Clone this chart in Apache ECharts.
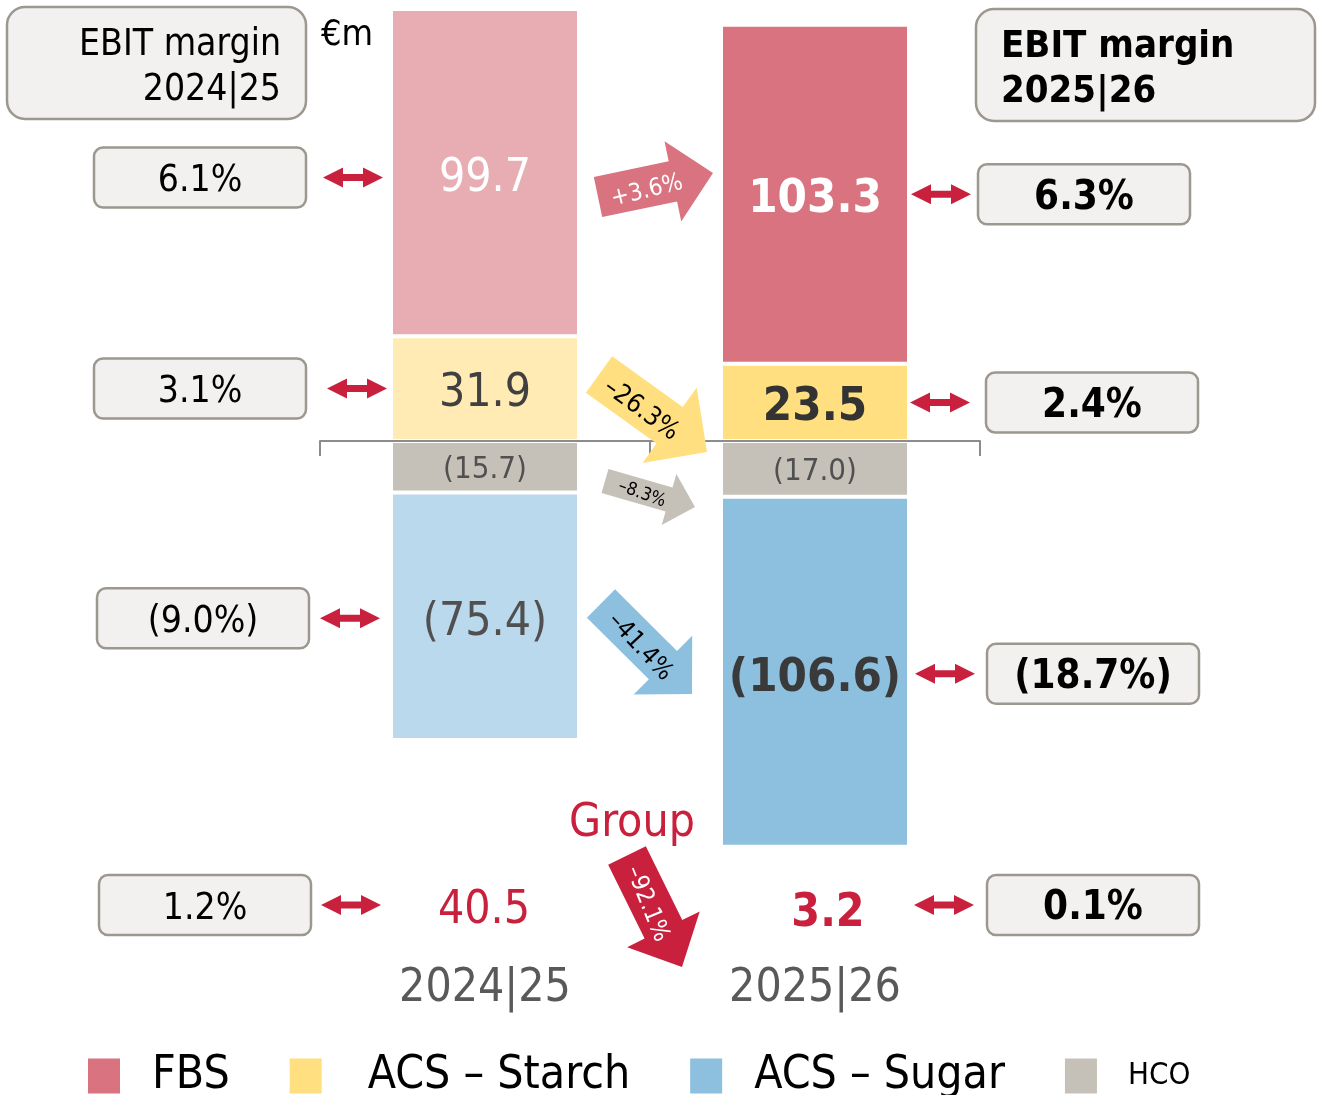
<!DOCTYPE html>
<html>
<head>
<meta charset="utf-8">
<title>EBIT by segment</title>
<script src="https://cdn.jsdelivr.net/npm/echarts@6.0.0/dist/echarts.min.js"></script>
<style>
  html, body { margin: 0; padding: 0; background: #fff; }
  #chart { width: 1319px; height: 1095px; }
</style>
</head>
<body>
<div id="chart"></div>
<script>
  // values in €m
  var categories = ['2024|25', '2025|26']
  var fbs = [99.7, 103.3]
  var starch = [31.9, 23.5]
  var hco = [-15.7, -17.0]
  var sugar = [-75.4, -106.6]
  var groupEbit = [40.5, 3.2]

  // EBIT margins (left = 2024|25, right = 2025|26)
  var marginFbs = ['6.1%', '6.3%']
  var marginStarch = ['3.1%', '2.4%']
  var marginSugar = ['(9.0%)', '(18.7%)']
  var marginGroup = ['1.2%', '0.1%']

  // year-on-year change: FBS, Starch, HCO, Sugar, Group
  var changes = ['+3.6%', '–26.3%', '–8.3%', '–41.4%', '–92.1%']

  var FONT = '"DejaVu Sans Condensed", "DejaVu Sans", sans-serif'
  var RED = '#C8203D'
  var colFbs = ['#E8ADB3', '#D9737F']
  var colStarch = ['#FFEBB3', '#FFDF80']
  var colHco = ['#C5C1B9', '#C5C1B9']
  var colSugar = ['#BBD9EC', '#8DBFDF']

  function fmt(v) {
    return v < 0 ? '(' + (-v).toFixed(1) + ')' : v.toFixed(1)
  }

  function barSeries(name, values, colors, rich, dy) {
    return {
      name: name,
      type: 'bar',
      stack: 'ebit',
      barWidth: 188,
      xAxisIndex: 0,
      data: values.map(function (v, i) {
        return { value: v, itemStyle: { color: colors[i] } }
      }),
      itemStyle: { color: colors[1], borderColor: '#fff', borderWidth: 2 },
      label: {
        show: true,
        position: 'inside',
        offset: [0, dy],
        formatter: function (p) {
          return (p.dataIndex === 0 ? '{a|' : '{b|') + fmt(p.value) + '}'
        },
        rich: rich
      },
      emphasis: { disabled: true }
    }
  }

  var chart = echarts.init(document.getElementById('chart'))
  chart.setOption({
    animation: false,
    textStyle: { fontFamily: FONT },
    grid: { left: 320, right: 339, top: 7.6, bottom: 161.6 },
    xAxis: [{
      type: 'category',
      data: categories,
      z: 10,
      axisLine: { onZero: true, lineStyle: { color: '#8C8C8C', width: 2 } },
      axisTick: { show: true, length: 15, lineStyle: { color: '#8C8C8C', width: 2 } },
      axisLabel: { show: false }
    }, {
      type: 'category',
      data: categories,
      position: 'bottom',
      axisLine: { show: false, onZero: false },
      axisTick: { show: false },
      axisLabel: { margin: 33, fontSize: 46, color: '#595959', fontFamily: FONT }
    }],
    yAxis: {
      type: 'value',
      min: -150,
      max: 132,
      show: false,
      splitLine: { show: false }
    },
    legend: {
      top: 1048,
      left: 83,
      icon: 'rect',
      itemWidth: 32,
      itemHeight: 35,
      itemGap: 60,
      selectedMode: false,
      itemStyle: { borderWidth: 0 },
      data: ['FBS', 'ACS – Starch', 'ACS – Sugar', 'HCO'],
      formatter: function (name) {
        if (name === 'HCO') return '{s|' + name + '}'
        if (name === 'ACS – Starch') return '{w|' + name + '}'
        return '{n|' + name + '}'
      },
      textStyle: {
        rich: {
          n: { fontSize: 46, fontFamily: FONT, color: '#000', padding: [0, 0, 0, 27] },
          w: { fontSize: 46, fontFamily: FONT, color: '#000', padding: [0, 0, 0, 41] },
          s: { fontSize: 31, fontFamily: FONT, color: '#000', padding: [0, 0, 0, 26] }
        }
      }
    },
    series: [
      barSeries('ACS – Starch', starch, colStarch, {
        a: { fontSize: 46, color: '#404040', fontFamily: FONT },
        b: { fontSize: 47, color: '#333', fontWeight: 'bold', fontFamily: FONT }
      }, 5),
      barSeries('FBS', fbs, colFbs, {
        a: { fontSize: 46, color: '#fff', fontFamily: FONT },
        b: { fontSize: 47, color: '#fff', fontWeight: 'bold', fontFamily: FONT }
      }, 6),
      barSeries('HCO', hco, colHco, {
        a: { fontSize: 31, color: '#505050', fontFamily: FONT },
        b: { fontSize: 31, color: '#505050', fontFamily: FONT }
      }, 3),
      barSeries('ACS – Sugar', sugar, colSugar, {
        a: { fontSize: 46, color: '#505050', fontFamily: FONT },
        b: { fontSize: 47, color: '#3a3a3a', fontWeight: 'bold', fontFamily: FONT }
      }, 7)
    ]
  })

  // ---- annotations (margin boxes, arrows, group totals) ----
  function py(ci, v) {
    return chart.convertToPixel({ seriesIndex: 0 }, [ci, v])[1]
  }

  function text(str, x, y, size, o) {
    o = o || {}
    var align = o.align || 'center'
    var dy = o.dy === undefined ? 4 : o.dy
    return {
      type: 'text',
      x: x,
      y: y + dy,
      rotation: o.rot ? -o.rot * Math.PI / 180 : 0,
      z: 20,
      style: {
        text: str,
        fill: o.color || '#000',
        font: (o.bold ? 'bold ' : '') + size + 'px ' + FONT,
        textAlign: align,
        align: align,
        textVerticalAlign: 'middle',
        verticalAlign: 'middle'
      }
    }
  }

  function box(x, y, w, h, r) {
    return {
      type: 'rect',
      z: 15,
      shape: { x: x, y: y, width: w, height: h, r: r },
      style: { fill: '#F2F1EF', stroke: '#9C978F', lineWidth: 2.5 }
    }
  }

  function doubleArrow(cx, cy) {
    return {
      type: 'polygon',
      z: 15,
      shape: {
        points: [
          [cx - 30, cy], [cx - 10, cy - 10], [cx - 10, cy - 3.5], [cx + 10, cy - 3.5],
          [cx + 10, cy - 10], [cx + 30, cy], [cx + 10, cy + 10], [cx + 10, cy + 3.5],
          [cx - 10, cy + 3.5], [cx - 10, cy + 10]
        ]
      },
      style: { fill: RED }
    }
  }

  function blockArrow(a) {
    var dx = a.tip[0] - a.tail[0]
    var dy = a.tip[1] - a.tail[1]
    var len = Math.sqrt(dx * dx + dy * dy)
    var ux = dx / len, uy = dy / len
    var nx = -uy, ny = ux
    var bx = a.tip[0] - ux * a.hl, by = a.tip[1] - uy * a.hl
    var b = a.bw / 2, h = a.hw / 2
    return {
      type: 'polygon',
      z: 12,
      shape: {
        points: [
          [a.tail[0] + nx * b, a.tail[1] + ny * b],
          [bx + nx * b, by + ny * b],
          [bx + nx * h, by + ny * h],
          a.tip,
          [bx - nx * h, by - ny * h],
          [bx - nx * b, by - ny * b],
          [a.tail[0] - nx * b, a.tail[1] - ny * b]
        ]
      },
      style: { fill: a.color }
    }
  }

  var rows = [
    { l: marginFbs[0], r: marginFbs[1], y: [py(0, starch[0] + fbs[0] / 2) + 5, py(1, starch[1] + fbs[1] / 2)], lx: 94, rx: 978, la: 353, ra: 941 },
    { l: marginStarch[0], r: marginStarch[1], y: [py(0, starch[0] / 2), py(1, starch[1] / 2)], lx: 94, rx: 986, la: 357, ra: 940 },
    { l: marginSugar[0], r: marginSugar[1], y: [py(0, hco[0] + sugar[0] / 2) + 2, py(1, hco[1] + sugar[1] / 2) + 2], lx: 97, rx: 987, la: 350, ra: 945 },
    { l: marginGroup[0], r: marginGroup[1], y: [905, 905], lx: 99, rx: 987, la: 351, ra: 944 }
  ]

  var elements = []

  // header boxes
  elements.push(box(7, 7, 299, 112, 18))
  elements.push(text('EBIT margin', 281, 42, 37, { align: 'right', dy: 3 }))
  elements.push(text('2024|25', 281, 87, 37, { align: 'right', dy: 3 }))
  elements.push(text('€m', 321, 33, 36, { align: 'left', dy: 3 }))
  elements.push(box(976, 9, 339, 112, 18))
  elements.push(text('EBIT margin', 1001, 44, 38, { align: 'left', bold: true, dy: 3 }))
  elements.push(text('2025|26', 1001, 89, 38, { align: 'left', bold: true, dy: 3 }))

  rows.forEach(function (r) {
    elements.push(box(r.lx, r.y[0] - 30, 212, 60, 9))
    elements.push(text(r.l, r.lx + 106, r.y[0], 37, { dy: 4 }))
    elements.push(doubleArrow(r.la, r.y[0]))
    elements.push(box(r.rx, r.y[1] - 30, 212, 60, 9))
    elements.push(text(r.r, r.rx + 106, r.y[1], 40, { bold: true, dy: 4 }))
    elements.push(doubleArrow(r.ra, r.y[1]))
  })

  // group totals
  elements.push(text(fmt(groupEbit[0]), 484, 907, 46, { color: RED }))
  elements.push(text(fmt(groupEbit[1]), 828, 910, 46, { color: RED, bold: true }))
  elements.push(text('Group', 632, 820, 46, { color: RED }))

  // change arrows between the bars
  var arrows = [
    { tail: [598, 197], tip: [713, 173], bw: 41, hw: 82, hl: 41, color: colFbs[1], t: changes[0], tc: '#fff', size: 24, tp: [647, 191], rot: -14 },
    { tail: [599, 374.5], tip: [707, 452], bw: 45, hw: 93, hl: 46, color: colStarch[1], t: changes[1], tc: '#000', size: 26, tp: [641, 410], rot: 36 },
    { tail: [605, 481], tip: [695, 507], bw: 25, hw: 53, hl: 27, color: colHco[1], t: changes[2], tc: '#000', size: 18, tp: [642, 494], rot: 20 },
    { tail: [601, 603.5], tip: [692, 694], bw: 40, hw: 83, hl: 41, color: colSugar[1], t: changes[3], tc: '#000', size: 25, tp: [640, 647], rot: 47 },
    { tail: [627, 855.5], tip: [682, 967], bw: 42, hw: 81, hl: 42, color: RED, t: changes[4], tc: '#fff', size: 24, tp: [647, 904], rot: 68 }
  ]
  arrows.forEach(function (a) {
    elements.push(blockArrow(a))
    elements.push(text(a.t, a.tp[0], a.tp[1], a.size, { color: a.tc, rot: a.rot, dy: 0 }))
  })

  chart.setOption({ graphic: { elements: elements } })
</script>
</body>
</html>
